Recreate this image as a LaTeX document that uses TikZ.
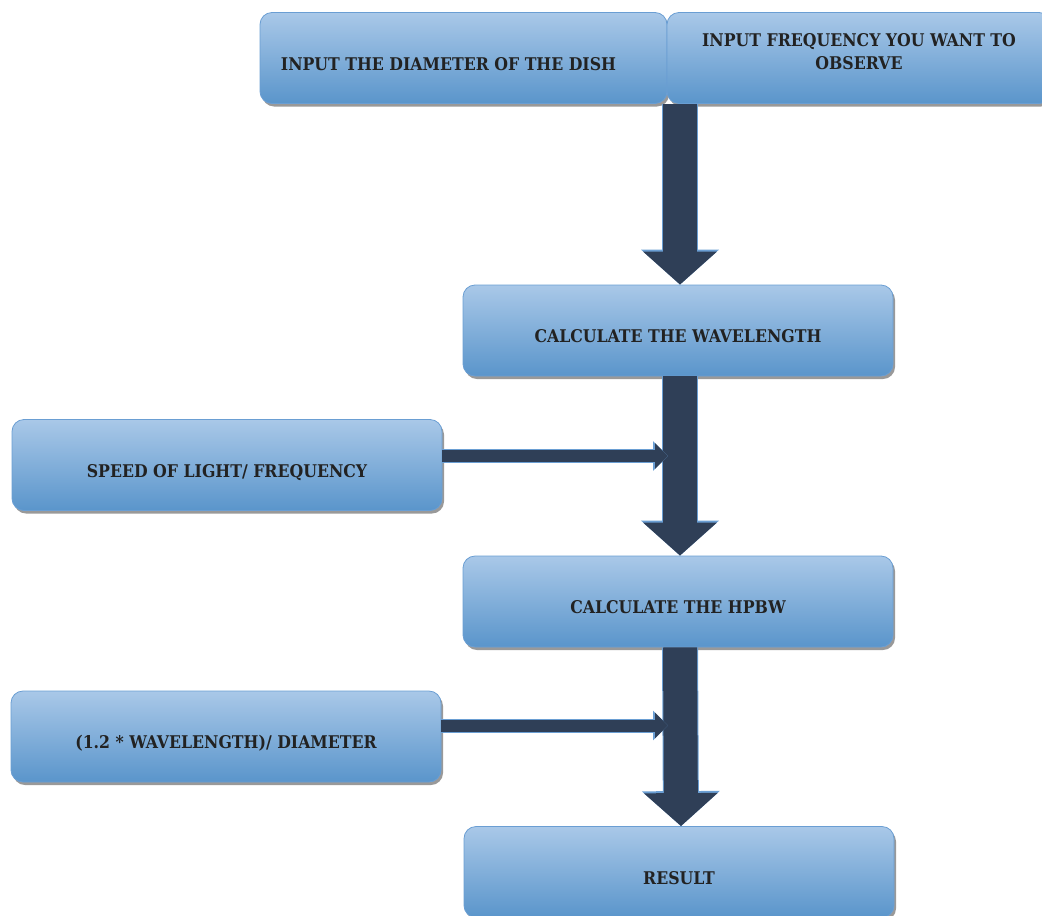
\documentclass[tikz,border=0pt]{standalone}
\usepackage{fontspec}
\setmainfont{DejaVu Serif Condensed}
\usetikzlibrary{arrows.meta,shadows}
\definecolor{boxTop}{HTML}{A9C8E8}
\definecolor{boxBottom}{HTML}{5A95CB}
\definecolor{boxEdge}{HTML}{6A9ED3}
\definecolor{arrowFill}{HTML}{2F3F57}
\definecolor{labelText}{HTML}{222222}
\newcommand{\boxFont}[0]{\fontsize{17.5}{23}\selectfont\bfseries}

\begin{document}
\begin{tikzpicture}[x=1pt, y=-1pt]
  \tikzset{
    flowbox/.style={draw=boxEdge, line width=0.8pt, rounded corners=12pt,
      top color=boxTop, bottom color=boxBottom, minimum width=430pt,
      minimum height=91pt, inner sep=0pt, align=center, text=labelText,
      font=\boxFont,
      drop shadow={shadow xshift=2pt, shadow yshift=-3pt, opacity=0.4, fill=black}},
    oneline/.style={text height=24pt, text depth=0pt},
    flow/.style={draw=arrowFill, line width=34pt, -{Triangle[width=72pt,length=33pt]},
      preaction={draw=boxEdge, line width=36pt, -{Triangle[width=76pt,length=35pt]}}},
    feed/.style={draw=arrowFill, line width=12pt, -{Triangle[width=25pt,length=13pt]},
      preaction={draw=boxEdge, line width=14pt, -{Triangle[width=29pt,length=15pt]}}}
  }
  \useasboundingbox (0,0) rectangle (1042,916);
  \node[flowbox, oneline, minimum width=407pt] (dish) at (463.5,58) {INPUT THE DIAMETER OF THE DISH\hspace{30pt}};
  \node[flowbox, text depth=12pt, minimum width=384pt] (freq) at (859,58) {INPUT FREQUENCY YOU WANT TO\\OBSERVE};
  \node[flowbox, oneline] (wave) at (678,330.5) {CALCULATE THE WAVELENGTH};
  \node[flowbox, oneline] (speed) at (227,465) {SPEED OF LIGHT/ FREQUENCY};
  \node[flowbox, oneline] (hpbw) at (678,601.5) {CALCULATE THE HPBW};
  \node[flowbox, oneline] (ratio) at (226,736.5) {(1.2 * WAVELENGTH)/ DIAMETER};
  \node[flowbox, oneline] (res) at (679,872) {RESULT};
  \coordinate (join1) at ([xshift=-10pt]wave.south);
  \coordinate (join2) at ([xshift=-10pt]hpbw.south);

  \draw[flow] ([xshift=2pt]dish.south east -| wave.north) -- ([xshift=2pt]wave.north);
  \draw[flow] ([xshift=2pt]wave.south) -- ([xshift=2pt]hpbw.north);
  \draw[flow] ([xshift=2pt]hpbw.south) -- ([xshift=2pt]res.north);
  \draw[feed] ([yshift=9pt]speed.east) -- ([yshift=9pt]speed.east -| join1);
  \draw[feed] ([yshift=11pt]ratio.east) -- ([yshift=11pt]ratio.east -| join2);
\end{tikzpicture}
\end{document}
